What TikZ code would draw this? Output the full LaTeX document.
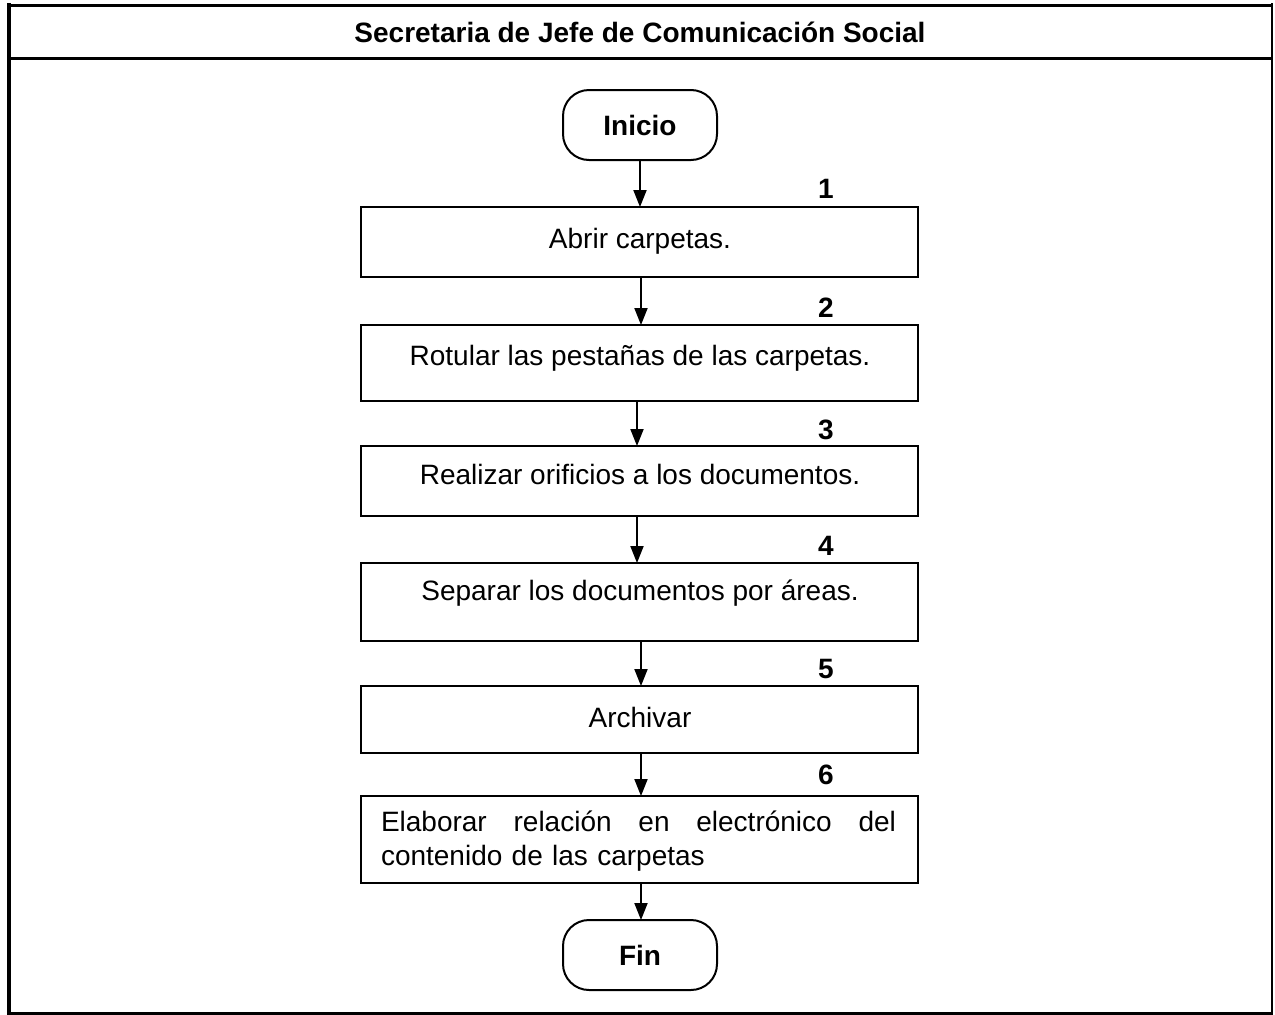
\documentclass[tikz,border=0pt]{standalone}
\usepackage{fontspec}
\setmainfont{Liberation Sans}
\usetikzlibrary{arrows.meta}
\begin{document}
\begin{tikzpicture}[x=1pt,y=-1pt,
  every node/.style={inner sep=0pt, outer sep=0pt, font=\fontsize{28}{34}\selectfont},
  stepbox/.style={draw, line width=2pt, minimum width=557pt, anchor=north west},
  term/.style={draw, line width=2pt, rounded corners=26pt, minimum width=154pt, minimum height=70pt, font=\fontsize{28}{34}\selectfont\bfseries},
  num/.style={font=\fontsize{28}{34}\selectfont\bfseries, anchor=base},
  txt/.style={anchor=base},
  flow/.style={line width=2pt, -{Triangle[length=17pt,width=13pt]}}
]
\useasboundingbox (0,0) rectangle (1275,1015);
% frame
\draw[line width=3pt] (7,5) -- (1273,5);
\draw[line width=3pt] (7,58) -- (1273,58);
\draw[line width=3pt] (7,1013) -- (1273,1013);
\draw[line width=4pt] (9,3) -- (9,1015);
\draw[line width=2pt] (1272,3) -- (1272,1015);
\node[txt, font=\fontsize{28}{34}\selectfont\bfseries] (title) at (640,42) {Secretaria de Jefe de Comunicación Social};
% terminals
\node[term] (ini) at (640,125) {Inicio};
\node[term] (fin) at (640,955) {Fin};
% boxes
\node[stepbox, minimum height=70pt] (b1) at (361,207) {};
\node[stepbox, minimum height=76pt] (b2) at (361,325) {};
\node[stepbox, minimum height=70pt] (b3) at (361,446) {};
\node[stepbox, minimum height=78pt] (b4) at (361,563) {};
\node[stepbox, minimum height=67pt] (b5) at (361,686) {};
\node[stepbox, minimum height=87pt] (b6) at (361,796) {};
% texts
\node[txt] (t1) at (640,248) {Abrir carpetas.};
\node[txt] (t2) at (640,365) {Rotular las pestañas de las carpetas.};
\node[txt] (t3) at (640,484) {Realizar orificios a los documentos.};
\node[txt] (t4) at (640,600) {Separar los documentos por áreas.};
\node[txt] (t5) at (640,727) {Archivar};
\node[anchor=base west, text width=515pt, align=left] (t6) at (381,831)
  {Elaborar\hfill relación\hfill en\hfill electrónico\hfill del\\contenido de las carpetas};
% numbers
\node[num] (n1) at (826,198) {1};
\node[num] (n2) at (826,317) {2};
\node[num] (n3) at (826,439) {3};
\node[num] (n4) at (826,555) {4};
\node[num] (n5) at (826,678) {5};
\node[num] (n6) at (826,784) {6};
% connectors
\draw[flow] (ini.south) -- (ini.south |- b1.north);
\draw[flow] ([xshift=1.5pt]b1.south) -- ([xshift=1.5pt]b2.north);
\draw[flow] ([xshift=-2.5pt]b2.south) -- ([xshift=-2.5pt]b3.north);
\draw[flow] ([xshift=-2.5pt]b3.south) -- ([xshift=-2.5pt]b4.north);
\draw[flow] ([xshift=1.5pt]b4.south) -- ([xshift=1.5pt]b5.north);
\draw[flow] ([xshift=1.5pt]b5.south) -- ([xshift=1.5pt]b6.north);
\draw[flow] ([xshift=1.5pt]b6.south) -- ([xshift=1.5pt]b6.south |- fin.north);
\end{tikzpicture}
\end{document}
